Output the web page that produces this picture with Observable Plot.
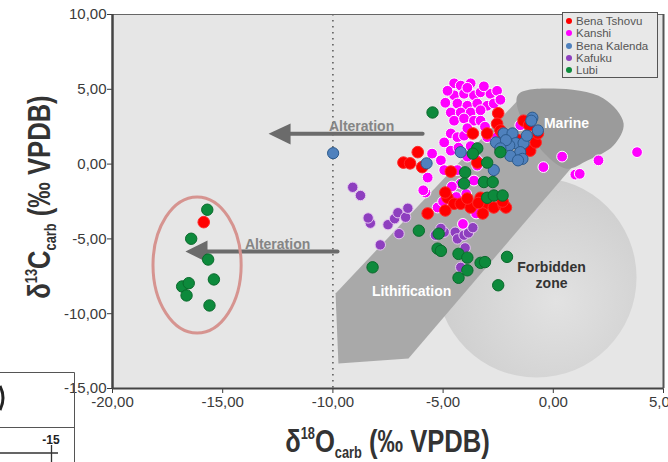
<!DOCTYPE html>
<html><head><meta charset="utf-8">
<script src="https://cdn.jsdelivr.net/npm/d3@7"></script>
<script src="https://cdn.jsdelivr.net/npm/@observablehq/plot@0.6"></script>
<style>
body{margin:0;background:#fff;}
#wrap{position:relative;width:668px;height:462px;overflow:hidden;font-family:"Liberation Sans",Arial,sans-serif;}
#wrap svg.plot{position:absolute;left:0;top:0;}
.title{position:absolute;font-family:"Liberation Sans",Arial,sans-serif;font-weight:bold;font-size:32px;color:#333;white-space:nowrap;text-align:center;height:40px;line-height:40px;}
.title sup{font-size:0.5em;vertical-align:0.8em;line-height:0;}
.title sub{font-size:0.5em;vertical-align:-0.35em;line-height:0;}
#xl{left:112px;width:551px;top:421px;transform:scaleX(0.8);}
#yl{left:-121px;top:177px;width:320px;transform:rotate(-90deg) scaleX(0.8);}
#legend{position:absolute;left:562px;top:12px;width:96px;height:66px;border:1.5px solid #555;background:#e8e8e8;font-size:11.5px;color:#555;padding-top:2px;box-sizing:border-box;}
#legend .row{height:12.3px;line-height:12.3px;white-space:nowrap;padding-left:13px;position:relative;}
#legend .row span{position:absolute;left:3px;top:3px;width:6px;height:6px;border-radius:50%;}
#artifact{position:absolute;left:0;top:0;}
</style></head><body><div id="wrap"></div>
<script>
// ---- categories / colors
const groups = ["Bena Tshovu", "Kanshi", "Bena Kalenda", "Kafuku", "Lubi"];
const groupFill = ["#ff0000", "#ff00ff", "#4f81bd", "#8e3fbf", "#0d8a3c"];
const groupStroke = ["#ff2a2a", "#ffffff", "#2c5a8c", "#e6c8f0", "#0a6a2c"];

// ---- tick values
const xTicks = [-20, -15, -10, -5, 0, 5];
const yTicks = [10, 5, 0, -5, -10, -15];

// ---- series (δ18O x, δ13C y)
const benaTshovuX = [-15.86, -2.5, -2.55, -2.4, -3.65, -3.0, -6.15, -6.8, -6.5, -5.95, -4.65, -3.45, -3.3, -4.8, -4.5, -4.2, -3.75, -3.05, -2.7, -2.25, -5.7, -1.35, -1.05, -0.8, -1.1, -0.7, -2.15, -3.2, -4.9, -2.3, -4.9, -3.9, -3.4, -2.4, -1.6, -2.3];
const benaTshovuY = [-3.88, 3.4, 2.7, 2.25, 2.05, 2.05, 0.8, 0.1, 0.05, -0.2, -0.5, 0.1, -2.25, -2.25, -2.65, -2.65, -2.9, -2.65, -2.9, -2.75, -3.3, 2.9, 0.9, 1.45, 2.6, 2.05, -2.9, -3.3, -3.1, 2.05, -1.9, -2.3, -2.6, 1.1, 1.6, -2.5];

const kanshiX = [-4.5, -4.2, -3.75, -4.9, -4.5, -4.05, -3.6, -3.3, -2.85, -2.55, -4.35, -3.9, -3.45, -3.0, -2.7, -4.65, -4.2, -3.75, -3.3, -4.5, -4.05, -3.6, -3.3, -4.65, -4.35, -4.95, -4.05, -4.65, -5.1, -4.95, -5.7, -5.8, -5.5, -5.25, -4.35, -4.2, -3.45, -3.0, -2.55, -1.5, -0.45, 0.4, 1.0, 1.2, 2.05, 3.8, -3.45, -3.6, -4.8, -3.9, -3.15, -2.4, -3.9, -3.1, -4.3, -3.75, -3.9, -4.6, -4.4, -5.0, -3.95, -3.5, -4.1, -5.9];
const kanshiY = [5.4, 5.25, 5.4, 4.1, 4.6, 4.7, 4.6, 4.8, 4.7, 4.9, 4.05, 3.9, 4.05, 3.9, 4.05, 3.45, 3.45, 3.45, 3.6, 2.9, 3.05, 2.9, 2.9, 2.05, 1.8, 1.45, 1.9, 0.9, 0.25, -0.4, -0.9, -1.9, 0.7, -2.9, -0.4, -1.3, 0.25, 1.8, 1.8, 2.6, -0.2, 0.5, -0.7, -0.65, 0.25, 0.8, -0.1, -1.1, 4.9, 5.1, 5.2, 4.3, 2.4, 2.5, 1.1, 1.2, 0.5, -1.5, -2.2, -2.5, -2.0, -3.3, -4.0, -1.75];

const benaKalendaX = [-9.99, -0.95, -0.7, -2.25, -2.6, -1.85, -1.7, -2.0, -1.35, -1.5, -1.4, -1.95, -2.7, -2.15, -2.4, -1.6, -4.2, -5.75, -1.2, -1.0];
const benaKalendaY = [0.73, 3.1, 2.25, 2.05, 1.45, 2.05, 1.4, 1.25, 1.4, 0.8, 0.35, 0.55, -0.4, 1.6, 1.05, 0.25, 0.8, 0.05, 1.9, 2.9];

const kafukuX = [-9.1, -8.75, -8.3, -8.4, -7.5, -7.2, -7.05, -6.7, -6.6, -7.0, -7.85, -4.95, -5.35, -4.45, -4.35, -4.05, -3.85, -3.65, -4.0, -4.2, -5.1];
const kafukuY = [-1.55, -2.1, -3.95, -3.6, -4.05, -3.65, -3.25, -3.55, -2.95, -4.65, -5.4, -4.55, -4.75, -4.55, -5.0, -4.75, -4.6, -4.25, -5.6, -6.9, -4.3];

const lubiX = [-15.7, -16.43, -15.66, -15.4, -16.84, -16.54, -16.64, -15.6, -5.48, -3.45, -3.65, -3.0, -2.4, -4.0, -4.05, -3.15, -2.75, -3.0, -2.7, -2.3, -6.1, -5.2, -5.25, -5.1, -8.2, -4.3, -3.9, -3.3, -3.1, -2.1, -3.9, -4.3, -2.5];
const lubiY = [-3.05, -4.99, -6.38, -7.71, -8.18, -7.96, -8.78, -9.45, 3.45, 1.05, 0.7, 0.1, 0.8, -0.55, -1.3, -1.2, -1.2, -2.25, -2.1, -2.1, -4.45, -4.65, -5.65, -5.8, -6.9, -6.0, -6.25, -6.6, -6.55, -6.2, -7.1, -7.6, -8.1];

// ---- annotation shapes (data units)
const bandX = [-9.88, -9.75, -6.57, 0.99, -1.40];
const bandY = [-8.65, -13.33, -12.99, 0.04, 4.59];
const marineX = [-1.62, 0.01, 2.28, 3.19, 2.73, 1.55, 0.55, -1.03];
const marineY = [4.59, 5.05, 4.39, 2.71, 1.24, 0.24, -0.29, 1.91];
const forbiddenCenter = {x: -0.76, y: -7.58};
const arrowUpShaftX = [-12.15, -5.93], arrowUpShaftY = [2.03, 2.03];
const arrowUpHeadX = [-12.92, -11.92, -11.92], arrowUpHeadY = [2.03, 2.71, 1.31];
const arrowLoShaftX = [-15.87, -9.79], arrowLoShaftY = [-5.84, -5.84];
const arrowLoHeadX = [-16.69, -15.69, -15.69], arrowLoHeadY = [-5.84, -5.11, -6.58];
const labelText = ["Alteration", "Alteration", "Marine", "Lithification", "Forbidden", "zone"];
const labelX = [-8.70, -12.51, 0.60, -6.43, -0.08, -0.08];
const labelY = [2.51, -5.37, 2.71, -8.52, -6.91, -7.98];
const outlierEllipse = {x: -16.14, y: -6.78, rx: 2.0, ry: 4.55};

const pts = (xs, ys) => xs.map((x, i) => ({x, y: ys[i]}));
const fmt = v => v.toFixed(2).replace(".", ",");
const series = [pts(benaTshovuX, benaTshovuY), pts(kanshiX, kanshiY), pts(benaKalendaX, benaKalendaY), pts(kafukuX, kafukuY), pts(lubiX, lubiY)];
const drawOrder = [3, 1, 0, 2, 4];
const radius = [5.8, 5.4, 5.6, 5.2, 5.7];
const labels = labelText.map((t, i) => ({t, x: labelX[i], y: labelY[i]}));

const plot = Plot.plot({
  width: 668, height: 462,
  marginLeft: 112, marginRight: 5, marginTop: 14, marginBottom: 74,
  style: {background: "transparent", fontFamily: "'Liberation Sans', Arial, sans-serif", fontSize: "15px", color: "#3a3a3a", overflow: "visible"},
  x: {domain: [-20, 5], ticks: xTicks, tickFormat: fmt, tickSize: 5, tickPadding: 3, label: null},
  y: {domain: [-15, 10], ticks: yTicks, tickFormat: fmt, tickSize: 5, tickPadding: 1, label: null},
  marks: [
    Plot.frame({fill: "#e6e6e6", stroke: null}),
    Plot.dot([forbiddenCenter], {x: "x", y: "y", r: 100, fill: "url(#fzGrad)", stroke: "none"}),
    Plot.line(pts(bandX, bandY), {x: "x", y: "y", fill: "#a9a9a9", stroke: "none"}),
    Plot.line(pts(marineX, marineY), {x: "x", y: "y", fill: "#9b9b9b", stroke: "none", curve: "catmull-rom-closed"}),
    Plot.ruleX([-10], {stroke: "#555", strokeWidth: 1.5, strokeDasharray: "1.5,4.5"}),
    Plot.line(pts(arrowUpShaftX, arrowUpShaftY), {x: "x", y: "y", stroke: "#6b6b6b", strokeWidth: 4}),
    Plot.line(pts(arrowUpHeadX, arrowUpHeadY), {x: "x", y: "y", fill: "#6b6b6b", stroke: "none"}),
    Plot.line(pts(arrowLoShaftX, arrowLoShaftY), {x: "x", y: "y", stroke: "#6b6b6b", strokeWidth: 4}),
    Plot.line(pts(arrowLoHeadX, arrowLoHeadY), {x: "x", y: "y", fill: "#6b6b6b", stroke: "none"}),
    Plot.text(labels.slice(0, 2), {x: "x", y: "y", text: "t", fill: "#858585", fontWeight: "bold", fontSize: 14}),
    Plot.text(labels.slice(2, 4), {x: "x", y: "y", text: "t", fill: "#ffffff", fontWeight: "bold", fontSize: 14}),
    Plot.text(labels.slice(4), {x: "x", y: "y", text: "t", fill: "#333", fontWeight: "bold", fontSize: 14}),
    ...drawOrder.map(i => Plot.dot(series[i], {x: "x", y: "y", r: radius[i], fill: groupFill[i], stroke: groupStroke[i], strokeWidth: 1})),
    Plot.frame({stroke: "#666", strokeWidth: 1}),
    Plot.ruleX([-20], {stroke: "#444", strokeWidth: 2.5}),
    Plot.ruleX([5], {stroke: "#555", strokeWidth: 2}),
    Plot.ruleY([-15], {stroke: "#444", strokeWidth: 2})
  ]
});
plot.classList.add("plot");

const svg = d3.select(plot);
const defs = svg.insert("defs", ":first-child");
const grad = defs.append("radialGradient").attr("id", "fzGrad").attr("cx", "0.6").attr("cy", "0.62").attr("r", "0.62");
grad.append("stop").attr("offset", "0").attr("stop-color", "#e2e2e2");
grad.append("stop").attr("offset", "1").attr("stop-color", "#cdcdcd");
const sx = plot.scale("x"), sy = plot.scale("y");
svg.append("ellipse")
  .attr("cx", sx.apply(outlierEllipse.x)).attr("cy", sy.apply(outlierEllipse.y))
  .attr("rx", Math.abs(sx.apply(outlierEllipse.x + outlierEllipse.rx) - sx.apply(outlierEllipse.x)))
  .attr("ry", Math.abs(sy.apply(outlierEllipse.y + outlierEllipse.ry) - sy.apply(outlierEllipse.y)))
  .attr("fill", "none").attr("stroke", "#d69490").attr("stroke-width", 3);

const wrap = document.getElementById("wrap");
wrap.appendChild(plot);

// axis titles
const xl = document.createElement("div");
xl.className = "title"; xl.id = "xl";
xl.innerHTML = "δ<sup>18</sup>O<sub>carb</sub> (‰ VPDB)";
wrap.appendChild(xl);
const yl = document.createElement("div");
yl.className = "title"; yl.id = "yl";
yl.innerHTML = "δ<sup>13</sup>C<sub>carb</sub> (‰ VPDB)";
wrap.appendChild(yl);

// legend
const lg = document.createElement("div");
lg.id = "legend";
groups.forEach((g, i) => {
  const r = document.createElement("div");
  r.className = "row";
  r.innerHTML = `<span style="background:${groupFill[i]}"></span>${g}`;
  lg.appendChild(r);
});
wrap.appendChild(lg);

// leftover fragment of a neighbouring figure (bottom-left)
const art = d3.select(wrap).append("svg").attr("id", "artifact").attr("width", 668).attr("height", 462).style("pointer-events", "none");
art.append("path").attr("d", "M0,372.5H74.5V462M0,427.5H74.5").attr("fill", "none").attr("stroke", "#555").attr("stroke-width", 1);
art.append("path").attr("d", "M0,386 Q6,398 0,410").attr("fill", "none").attr("stroke", "#222").attr("stroke-width", 3);
art.append("path").attr("d", "M0,453H58M51.5,445V462").attr("fill", "none").attr("stroke", "#333").attr("stroke-width", 1.3);
art.append("text").attr("x", 51).attr("y", 444).attr("text-anchor", "middle").attr("font-family", "Liberation Sans, Arial, sans-serif").attr("font-weight", "bold").attr("font-size", 12).attr("fill", "#222").text("-15");
</script>
</body></html>
